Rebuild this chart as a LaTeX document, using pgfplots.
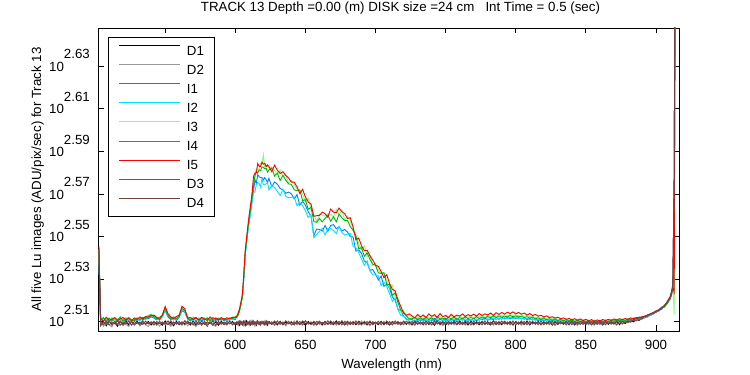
\documentclass[border=0pt]{standalone}
\usepackage{fontspec}
\setmainfont{Liberation Sans}
\usepackage{pgfplots}
\usepackage{pgfplotstable}
\pgfplotsset{compat=1.18}
\definecolor{cD2}{rgb}{0.6,0.6,0.6}
\definecolor{cI1}{rgb}{0,0.5,1}
\definecolor{cI2}{rgb}{0,0.9,1}
\definecolor{cI3}{rgb}{0.5,1,0.5}
\definecolor{cI4}{rgb}{0,0.72,0}
\definecolor{cI5}{rgb}{1,0,0}
\definecolor{cD3}{rgb}{0.5,0.3,0.3}
\definecolor{cD4}{rgb}{0.45,0.25,0.25}
\newcommand{\tl}[1]{10\raisebox{12.4bp}{#1}}
\pgfplotstableread{
x d1 d2 i1 i2 i3 i4 i5 d3 d4
502.7 350.5 349.0 348.0 349.5 350.0 349.0 351.0 350.0 349.5
504 322.4 323.6 324.8 323.9 325.1 324.0 324.6 322.1 323.3
506 323.5 322.0 323.7 324.9 324.2 325.0 323.8 323.4 322.6
508 322.1 323.1 324.3 323.4 324.6 323.6 325.1 322.8 323.7
510 323.8 322.5 323.5 324.6 323.9 324.8 324.0 323.9 322.4
512 322.6 321.7 324.9 323.8 325.0 323.9 324.4 322.3 323.5
514 323.2 323.9 323.6 324.4 324.0 324.9 325.0 323.6 322.8
516 322.0 322.8 324.2 323.5 324.7 324.1 323.9 322.5 323.9
518 323.6 322.2 323.4 324.7 323.8 325.2 324.5 323.8 322.5
520 322.7 323.5 324.6 323.6 324.5 323.7 325.0 322.2 323.2
522 323.9 322.6 323.8 324.8 325.1 324.4 324.1 323.5 322.7
524 322.3 321.9 324.5 323.7 324.3 325.0 324.7 322.9 323.8
526 323.4 323.7 323.6 324.3 323.9 324.2 323.9 323.7 322.3
528 322.5 322.4 324.4 323.9 324.8 323.8 324.9 322.4 323.6
530 323.7 323.2 323.9 324.6 324.1 324.9 324.3 323.3 322.9
532 322.2 322.1 324.7 323.8 325.0 324.3 325.2 322.7 323.4
534 323.3 323.8 324.1 325.0 324.6 325.1 324.5 323.9 322.6
536 322.8 322.5 325.0 324.2 325.3 324.6 325.4 322.6 323.7
538 323.6 321.8 324.6 325.4 325.9 325.5 325.1 323.2 322.8
540 322.4 323.4 325.3 325.8 326.2 326.0 325.6 322.9 323.5
542 323.5 322.7 324.8 325.1 325.5 325.3 325.9 323.6 322.4
544 322.9 323.3 324.2 324.6 325.2 324.7 325.0 322.3 323.6
546 323.1 322.0 324.9 324.0 324.7 325.1 324.4 323.7 322.9
548 322.3 323.6 325.4 325.2 326.0 325.8 325.9 322.8 323.3
550 323.8 322.4 327.5 327.9 328.6 328.3 328.9 323.4 322.7
552 322.6 323.1 325.2 325.6 326.1 325.9 326.4 322.5 323.8
554 323.4 321.9 324.3 324.9 325.0 324.6 325.2 323.9 322.5
556 322.1 323.5 324.7 324.1 324.8 325.2 324.6 322.6 323.4
558 323.7 322.6 324.0 324.8 325.3 324.5 325.4 323.3 322.8
560 322.5 323.2 325.1 325.5 326.0 325.7 325.8 322.7 323.6
562 323.3 322.3 327.4 327.8 328.7 328.2 329.0 323.5 322.6
564 322.8 323.7 326.9 327.2 327.8 327.5 328.1 322.4 323.9
566 323.6 322.1 324.5 324.9 325.3 325.0 324.8 323.8 322.9
568 322.4 323.4 323.8 324.3 324.7 324.1 325.0 322.9 323.3
570 323.9 322.8 324.6 323.9 325.2 324.8 324.3 323.1 322.4
572 322.2 321.8 323.9 324.7 324.2 325.1 324.9 322.8 323.7
574 323.5 323.6 324.8 323.7 324.9 324.0 324.2 323.6 322.5
576 322.7 322.4 323.6 324.5 324.3 324.7 325.1 322.3 323.8
578 323.2 323.3 324.9 324.0 325.0 324.2 324.5 323.7 322.6
580 322.0 322.2 324.1 324.8 323.8 324.9 324.0 322.6 323.5
582 323.8 323.8 324.7 323.6 324.6 323.9 325.2 323.4 322.8
584 322.6 322.5 323.7 324.4 324.1 325.0 324.4 322.2 323.9
586 323.4 321.9 324.5 323.9 325.1 324.3 324.8 323.9 322.3
588 322.3 323.5 324.0 324.7 324.4 324.8 324.1 322.8 323.6
590 323.7 322.7 324.8 324.0 324.9 324.1 325.0 323.3 322.7
592 322.5 323.2 323.8 324.6 324.2 324.7 324.3 322.5 323.4
594 323.1 322.3 324.4 323.8 325.0 324.2 324.9 323.7 322.6
596 322.8 323.6 324.1 324.5 324.5 324.9 324.6 322.9 323.8
598 323.6 322.4 324.6 324.2 325.2 324.6 325.1 323.2 322.5
600 322.4 323.0 324.3 324.9 324.8 325.3 325.0 322.7 323.3
601 322.6 323.5 325.6 325.0 325.5 325.0 325.4 323.4 322.7
602 323.4 322.2 326.1 325.8 326.6 325.9 326.5 322.5 323.7
603 322.3 323.8 327.9 327.2 327.6 327.3 328.0 323.7 322.8
604 323.7 322.6 329.8 329.5 330.6 329.8 330.5 322.6 323.5
605 322.5 323.3 332.7 332.0 333.1 332.2 333.0 323.5 322.4
606 323.5 322.1 338.7 338.5 340.2 339.0 340.0 322.8 323.8
607 322.2 323.7 347.8 347.0 349.1 348.0 349.0 323.9 322.9
608 323.8 322.9 352.6 352.0 353.8 353.1 354.0 322.4 323.3
609 322.7 323.4 357.3 356.5 358.9 358.0 359.0 323.6 322.5
610 323.3 322.3 361.0 360.5 363.4 362.5 363.5 322.7 323.7
611 322.4 323.9 365.0 364.0 367.0 366.3 367.5 323.2 322.6
612 323.6 322.5 369.2 368.0 371.6 370.8 372.0 322.5 323.9
613 322.9 323.2 372.6 372.3 377.5 374.6 378.7 323.8 322.7
614 323.5 322.0 377.3 372.3 378.5 378.9 380.0 322.6 323.4
615 322.3 323.7 375.9 375.3 382.0 380.8 380.1 323.4 322.5
616 323.7 322.8 379.4 376.2 381.6 380.0 384.0 322.9 323.8
617 322.6 323.4 378.5 375.7 381.7 381.4 382.8 323.5 322.6
618 323.4 322.4 378.2 374.3 384.1 381.0 382.7 322.4 323.5
619 322.8 323.6 378.2 377.7 383.5 382.5 384.6 323.7 322.9
620 323.2 322.6 377.2 375.4 387.7 382.4 383.7 322.8 323.6
621 322.5 323.8 378.2 375.2 382.4 381.8 384.1 323.3 322.5
622 323.8 322.3 377.3 375.6 383.1 382.1 382.7 322.6 323.7
623 322.4 323.5 376.1 376.1 382.8 380.4 383.4 323.6 322.8
624 323.6 322.7 377.9 373.2 382.2 381.4 382.7 322.9 323.4
626 322.7 323.3 374.5 374.9 382.5 382.1 380.6 323.5 322.6
628 323.5 322.2 376.4 374.1 381.1 378.8 383.3 322.5 323.8
630 322.4 323.7 375.5 372.6 379.6 380.0 381.2 323.8 322.7
632 323.7 322.6 373.7 370.9 381.3 377.0 379.9 322.7 323.5
634 322.6 323.4 373.2 373.4 378.5 379.1 380.6 323.4 322.4
636 323.4 322.1 371.8 370.6 379.5 377.1 379.0 322.6 323.9
638 322.9 323.6 372.3 370.0 375.9 375.6 378.0 323.7 322.8
640 323.3 322.5 371.6 370.2 377.1 375.4 376.3 322.4 323.6
642 322.5 323.8 369.5 370.4 375.4 373.2 376.3 323.3 322.5
644 323.8 322.4 371.3 366.8 373.6 372.8 374.4 322.8 323.7
646 322.6 323.1 367.1 368.1 373.2 373.1 371.7 323.6 322.6
648 323.5 322.3 368.6 366.8 371.5 368.9 373.4 322.5 323.8
650 322.3 323.7 367.0 364.8 368.5 369.2 370.3 323.9 322.9
652 323.6 322.8 364.5 362.2 369.8 365.4 368.3 322.7 323.3
654 322.8 323.5 362.7 363.2 365.4 366.2 367.5 323.4 322.5
656 323.4 322.2 355.1 354.4 363.2 360.6 362.6 322.6 323.7
658 322.5 323.6 357.7 355.5 360.6 360.3 362.9 323.7 322.4
660 323.7 322.6 357.5 356.8 363.5 361.8 363.0 322.9 323.6
662 322.4 323.3 356.9 358.0 363.2 360.5 364.3 323.3 322.8
664 323.6 322.4 359.1 355.4 362.7 361.8 363.7 322.5 323.5
666 322.7 323.8 356.8 357.8 363.7 362.9 362.3 323.8 322.6
668 323.3 322.5 359.1 357.9 363.5 360.7 365.5 322.6 323.8
670 322.5 323.5 359.4 357.1 362.4 362.5 364.3 323.5 322.7
672 323.8 322.3 357.8 355.9 365.4 360.5 364.0 322.8 323.4
674 322.6 323.6 358.5 358.8 363.3 363.5 365.9 323.6 322.5
676 323.5 322.7 356.9 356.3 365.0 362.1 364.5 322.4 323.9
678 322.4 323.4 357.5 355.4 361.4 360.9 363.7 323.7 322.6
680 323.6 322.2 356.5 355.7 362.4 361.1 361.8 322.7 323.7
682 322.7 323.7 354.8 355.9 360.9 358.6 362.1 323.4 322.5
684 323.4 322.6 354.6 351.0 357.5 357.2 358.5 322.5 323.6
686 322.5 323.3 349.2 350.5 355.3 355.1 353.5 323.8 322.8
688 323.7 322.4 349.7 348.7 352.2 350.2 354.2 322.6 323.5
690 322.8 323.8 348.4 346.3 349.7 350.5 351.3 323.3 322.4
692 323.3 322.5 345.5 343.9 351.2 347.3 349.4 322.9 323.7
694 322.4 323.4 344.9 345.6 347.2 348.6 349.6 323.6 322.6
696 323.6 322.1 342.1 341.8 348.0 346.2 347.5 322.4 323.8
698 322.6 323.6 342.3 340.4 343.9 344.3 345.9 323.5 322.5
700 323.4 322.7 340.6 340.3 344.5 343.9 343.9 322.7 323.4
702 322.5 323.2 338.5 339.9 342.4 341.1 343.5 323.7 322.7
704 323.7 322.4 339.9 336.4 340.7 340.9 341.6 322.6 323.6
706 322.7 323.7 336.2 337.7 340.9 341.2 339.3 323.4 322.4
708 323.3 322.5 337.0 336.1 338.5 336.9 340.4 322.8 323.8
710 322.4 323.5 335.4 333.5 335.6 336.8 337.2 323.6 322.6
712 323.6 322.3 332.3 330.8 336.6 333.0 335.0 322.5 323.5
714 322.8 323.6 331.1 332.0 332.2 333.8 334.5 323.8 322.8
716 323.4 322.6 327.9 327.8 331.9 330.3 331.3 322.7 323.6
718 322.5 323.4 327.4 325.7 326.8 327.6 328.9 323.4 322.5
720 323.7 322.5 325.5 325.4 327.3 326.9 326.6 322.6 323.7
722 322.6 323.7 324.3 324.6 325.5 325.6 325.8 323.7 322.8
724 323.5 322.4 324.5 323.7 325.7 324.5 326.3 322.9 323.5
726 322.4 323.3 324.3 323.7 325.1 324.6 325.6 323.6 322.6
728 323.6 322.2 323.6 324.2 324.5 325.0 324.9 322.5 323.8
730 322.7 323.7 324.5 323.5 325.3 324.3 326.1 323.8 322.7
732 323.3 322.6 323.8 324.4 324.7 324.9 325.2 322.7 323.4
734 322.5 323.5 324.6 323.9 325.5 324.2 325.9 323.5 322.5
736 323.8 322.3 323.5 324.5 324.6 325.1 325.0 322.6 323.7
738 322.6 323.8 324.3 323.6 325.2 324.4 326.3 323.6 322.8
740 323.4 322.5 323.9 324.3 324.8 324.9 325.4 322.4 323.5
742 322.3 323.4 324.7 323.8 325.6 324.1 326.0 323.9 322.6
744 323.7 322.7 323.7 324.6 324.9 325.2 325.1 322.8 323.8
746 322.8 323.6 324.4 323.5 325.4 324.5 326.4 323.4 322.4
748 323.5 322.1 324.0 324.2 324.6 324.8 325.3 322.6 323.6
750 322.4 323.5 324.8 323.9 325.3 324.3 325.8 323.7 322.7
752 323.6 322.8 323.6 324.4 325.0 325.0 325.0 322.5 323.5
754 322.7 323.3 324.5 323.7 325.5 324.6 326.2 323.5 322.8
756 323.4 322.4 323.8 324.5 324.7 325.1 325.2 322.9 323.7
758 322.5 323.7 324.6 323.6 325.2 324.4 325.9 323.8 322.5
760 323.8 322.6 324.1 324.3 325.7 325.0 325.5 322.6 323.4
762 322.6 323.4 324.7 324.0 324.9 324.5 326.3 323.4 322.6
764 323.3 322.3 323.9 324.6 325.4 325.2 325.4 322.7 323.8
766 322.4 323.8 324.5 323.8 325.1 324.7 326.0 323.6 322.7
768 323.7 322.5 324.0 324.4 325.6 325.0 325.6 322.4 323.5
770 322.8 323.5 324.8 323.9 324.8 324.6 326.2 323.7 322.4
772 323.4 322.7 323.8 324.5 325.5 325.3 325.5 322.8 323.6
774 322.5 323.3 324.6 324.0 325.2 324.7 326.4 323.5 322.8
776 323.6 322.4 324.2 324.7 325.8 325.2 325.7 322.5 323.7
778 322.7 323.7 324.9 324.1 325.0 324.8 326.3 323.8 322.6
780 323.5 322.6 324.0 324.6 325.7 325.4 325.9 322.6 323.4
782 322.4 323.4 324.7 324.2 325.3 324.9 326.6 323.4 322.7
784 323.8 322.3 324.3 324.8 325.9 325.5 325.8 322.7 323.8
786 322.6 323.6 325.0 324.3 325.4 325.0 326.7 323.6 322.5
788 323.3 322.5 324.4 324.9 326.0 325.6 326.1 322.5 323.6
790 322.5 323.8 325.1 324.4 325.5 325.1 326.8 323.7 322.8
792 323.7 322.7 324.5 325.0 326.1 325.5 326.2 322.8 323.5
794 322.8 323.4 325.0 324.5 325.6 325.2 326.9 323.5 322.6
796 323.4 322.4 324.6 325.1 326.2 325.7 326.4 322.6 323.7
798 322.4 323.6 325.2 324.6 325.7 325.3 327.0 323.8 322.4
800 323.6 322.6 324.7 325.0 326.0 325.6 326.3 322.4 323.6
802 322.7 323.5 325.0 324.5 325.6 325.2 326.8 323.4 322.7
804 323.5 322.3 324.5 324.9 326.1 325.5 326.2 322.7 323.8
806 322.6 323.7 324.9 324.4 325.4 325.0 326.6 323.6 322.5
808 323.8 322.5 324.3 324.7 325.8 325.3 325.9 322.5 323.5
810 322.4 323.4 324.7 324.2 325.2 324.8 326.4 323.7 322.6
812 323.4 322.7 324.1 324.6 325.5 325.1 325.7 322.8 323.7
814 322.7 323.5 324.5 324.0 324.9 324.6 326.1 323.4 322.8
816 323.6 322.4 323.9 324.4 325.3 324.9 325.5 322.6 323.4
818 322.5 323.8 324.4 323.8 324.8 324.4 325.8 323.8 322.5
820 323.3 322.6 323.8 324.3 325.1 324.8 325.2 322.5 323.6
822 322.8 323.3 324.3 323.6 324.7 324.2 325.6 323.5 322.7
824 323.7 322.5 323.7 324.2 325.0 324.6 325.0 322.7 323.8
826 322.4 323.6 324.2 323.5 324.5 324.0 325.3 323.7 322.4
828 323.5 322.2 323.5 324.1 324.8 324.5 324.8 322.4 323.6
830 322.6 323.7 324.1 323.4 324.3 323.9 325.1 323.6 322.8
832 323.8 322.8 323.4 324.0 324.7 324.4 324.6 322.8 323.5
834 322.7 323.4 324.0 323.3 324.2 323.8 324.9 323.4 322.6
836 323.4 322.3 323.3 323.9 324.6 324.3 324.4 322.6 323.7
838 322.5 323.6 323.9 323.2 324.1 323.7 324.7 323.8 322.5
840 323.6 322.6 323.2 323.8 324.5 324.2 324.2 322.5 323.8
842 322.4 323.5 323.8 323.1 324.0 323.6 324.6 323.5 322.7
844 323.7 322.2 323.1 323.7 324.4 324.1 324.0 322.7 323.4
846 322.8 323.7 323.7 323.0 323.9 323.5 324.5 323.7 322.6
848 323.3 322.6 323.0 323.6 324.3 324.0 323.9 322.6 323.6
850 322.6 323.4 323.6 323.1 323.8 323.4 324.4 323.4 322.8
852 323.6 322.4 323.1 323.7 324.2 323.9 323.8 322.8 323.7
854 322.5 323.8 323.7 323.0 323.7 323.3 324.3 323.6 322.5
856 323.8 322.7 323.0 323.6 324.1 323.8 323.7 322.4 323.5
858 322.7 323.3 323.6 323.1 323.6 323.2 324.2 323.8 322.7
860 323.4 322.5 323.2 323.8 324.2 323.9 323.8 322.7 323.8
862 322.4 323.6 323.8 323.2 323.7 323.4 324.3 323.5 322.6
864 323.7 322.4 323.3 323.9 324.3 324.0 323.9 322.6 323.6
866 322.6 323.7 323.9 323.3 323.8 323.5 324.4 323.7 322.8
868 323.5 322.6 323.4 324.0 324.4 324.1 324.0 322.8 323.5
870 322.8 323.4 324.0 323.4 324.0 323.7 324.5 323.4 322.7
872 323.6 322.3 323.5 324.1 324.5 324.2 324.1 322.5 323.8
874 322.5 323.8 324.1 323.5 324.1 323.8 324.6 323.8 322.9
876 323.8 322.6 323.6 324.2 324.6 324.3 324.2 322.9 323.6
878 322.9 323.5 324.2 323.7 324.3 323.9 324.7 323.6 323.2
880 323.6 323.2 323.8 324.4 324.2 324.6 324.3 323.3 323.9
882 323.9 323.6 324.4 323.9 324.8 324.1 324.9 323.8 323.4
884 323.5 324.2 324.1 324.6 324.4 324.9 324.5 324.1 324.3
886 324.3 323.8 324.7 324.3 325.1 324.5 325.0 323.9 324.6
888 324.0 324.6 324.5 325.0 324.8 325.2 324.9 324.5 324.9
890 324.8 324.3 325.0 324.7 325.4 324.9 325.3 324.7 325.1
892 324.9 325.5 325.2 325.6 325.0 325.5 325.4 325.3 325.4
894 325.6 325.1 325.8 325.3 326.0 325.7 325.9 325.5 325.9
896 325.7 326.2 326.0 326.4 325.8 326.3 326.1 326.1 326.3
898 326.5 326.1 326.6 326.2 326.8 326.5 326.7 326.4 326.8
900 326.8 327.3 327.0 327.4 326.9 327.2 327.1 327.0 327.3
902 327.6 327.2 327.4 327.7 327.8 327.5 327.6 327.8 327.7
904 328.1 328.6 328.0 328.4 328.3 328.7 328.2 328.4 328.5
906 329.0 328.7 328.9 329.2 329.1 328.8 329.3 329.3 329.1
908 330.1 330.6 330.2 329.8 330.4 330.0 330.3 330.5 330.7
910 331.8 331.3 331.6 332.0 331.5 331.9 331.7 331.9 332.4
911 333.2 333.9 333.0 333.5 333.7 333.3 333.4 333.6 334.3
912 335.6 336.4 335.0 335.8 336.0 335.4 335.7 336.1 336.9
913 378.0 378.5 345.0 346.0 326.0 347.0 334.0 378.2 378.7
914.3 700 700 700 700 700 700 700 700 700
}\spectra
\begin{document}
\begin{tikzpicture}
\useasboundingbox (-98.7bp,-44bp) rectangle (651.3bp,331bp);
\begin{axis}[
  at={(0,0)}, anchor=south west,
  scale only axis, width=580.3bp, height=303bp,
  ymode=log,
  xmin=502.6, xmax=916.4, ymin=320.33, ymax=444.63,
  xtick={550,600,650,700,750,800,850,900},
  ytick={323.594,338.844,354.813,371.535,389.045,407.380,426.580},
  yticklabels={\tl{2.51},\tl{2.53},\tl{2.55},\tl{2.57},\tl{2.59},\tl{2.61},\tl{2.63}},
  minor ytick={}, minor xtick={},
  /pgf/number format/assume math mode=true,
  /pgf/number format/1000 sep={},
  tick align=inside, major tick length=5.5bp,
  every tick/.style={black, line width=0.8bp},
  axis line style={line width=0.8bp, black},
  ticklabel style={font=\fontsize{13.3bp}{16bp}\selectfont},
  xticklabel style={anchor=base, inner sep=0bp, yshift=-19bp},
  yticklabel style={anchor=base east, inner sep=0bp, xshift=-8.7bp, yshift=-5bp},
  xlabel={Wavelength (nm)},
  ylabel={All five Lu images (ADU/pix/sec) for Track 13},
  label style={font=\fontsize{13.3bp}{16bp}\selectfont},
  xlabel style={at={(axis description cs:0.505,-0.1254)}, anchor=base, inner sep=0bp},
  ylabel style={at={(axis description cs:-0.0994,0.5)}, anchor=base, inner sep=0bp},
  title={TRACK 13 Depth =0.00 (m) DISK size =24 cm\ \ \ Int Time = 0.5 (sec)},
  title style={at={(axis description cs:0.52,1.0347)}, anchor=base, inner sep=0bp, font=\fontsize{13.3bp}{16bp}\selectfont},
  legend cell align=left,
  legend image code/.code={\draw[#1, line width=0.9bp] (0bp,4.8bp) -- (60.7bp,4.8bp);},
  legend style={at={(0.0165,0.9713)}, anchor=north west, draw=black, line width=0.8bp, fill=white,
    font=\fontsize{13.3bp}{16bp}\selectfont, inner xsep=10bp, inner ysep=3.75bp,
    column sep=6.7bp, row sep=0bp,
    nodes={inner sep=0bp, text height=14.31bp, text depth=4.79bp}},
  every axis plot/.append style={line width=0.9bp},
]
\addplot[black] table[x=x,y=d1]{\spectra};
\addplot[cD2] table[x=x,y=d2]{\spectra};
\addplot[cI1] table[x=x,y=i1]{\spectra};
\addplot[cI2] table[x=x,y=i2]{\spectra};
\addplot[cI3] table[x=x,y=i3]{\spectra};
\addplot[cI4] table[x=x,y=i4]{\spectra};
\addplot[cI5] table[x=x,y=i5]{\spectra};
\addplot[cD3] table[x=x,y=d3]{\spectra};
\addplot[cD4] table[x=x,y=d4]{\spectra};
\legend{D1,D2,I1,I2,I3,I4,I5,D3,D4}
\end{axis}
\end{tikzpicture}
\end{document}
